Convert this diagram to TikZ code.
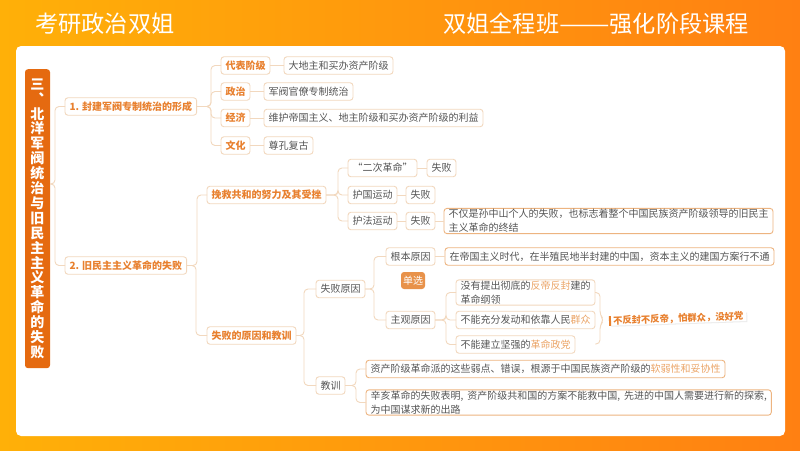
\documentclass[tikz,border=0pt]{standalone}
\usepackage{fontspec}
\setmainfont{Noto Sans CJK SC}
\usetikzlibrary{positioning,shadows}
\definecolor{barorange}{HTML}{E56A10}
\definecolor{headorange}{HTML}{E8802E}
\definecolor{softorange}{HTML}{EBA466}
\definecolor{tagorange}{HTML}{E8924A}
\definecolor{linetan}{HTML}{F2D8BE}
\definecolor{bodygray}{HTML}{555555}
\definecolor{bgleft}{HTML}{FFB008}
\definecolor{bgright}{HTML}{FF8012}
\tikzset{
    %Define style for boxes
    leaf/.style={
           rectangle,
           rounded corners=3pt,
           draw=linetan,
           line width=0.9pt,
           fill=white,
           text=bodygray,
           font=\fontsize{10}{14}\selectfont,
           align=left,
           inner xsep=4.5pt,
           inner ysep=1pt,
           outer sep=0pt,
           minimum height=17.5pt},
    head/.style={
           leaf,
           text=headorange,
           font=\fontsize{10}{14}\selectfont\bfseries},
    % Define connector styles
    link/.style={
           draw=linetan,
           line width=0.9pt,
           rounded corners=4pt},
    elbow/.style={
           to path={(\tikztostart) -- ([xshift=-#1pt]\tikztotarget |- \tikztostart) |- (\tikztotarget)}},
    elbow/.default=10
}
\newcommand{\hl}[1]{\textcolor{softorange}{#1}}

\begin{document}
\begin{tikzpicture}[x=1pt,y=-1pt,node distance=14pt]
  \useasboundingbox (0,0) rectangle (800,450);
  \shade[left color=bgleft,right color=bgright] (0,0) rectangle (800,450);
  \fill[white,rounded corners=5pt] (16,46) rectangle (785,436);

  % titles
  \node[anchor=west,inner sep=0pt,text=white,font=\fontsize{23.2}{23.2}\selectfont] (title) at (35,24) {考研政治双姐};
  \node[anchor=west,inner sep=0pt,text=white,font=\fontsize{23.2}{23.2}\selectfont] (course) at (443,24) {双姐全程班\scalebox{1.3}[1]{——}强化阶段课程};

  % left bar
  \node[fill=barorange,rounded corners=3pt,text=white,inner sep=0pt,minimum width=25pt,minimum height=299pt,
        align=center,font=\fontsize{14}{14.9}\selectfont\bfseries,anchor=north] (side) at (37.5,69)
    {三\\{\addfontfeature{RawFeature=+vert}、}\\北\\洋\\军\\阀\\统\\治\\与\\旧\\民\\主\\主\\义\\革\\命\\的\\失\\败};
  \coordinate (sidestem) at (50,184);

  % first branch
  \node[head,anchor=west] (form) at (65,106.5) {1. 封建军阀专制统治的形成};
  \node[head,anchor=west] (class) at (221,65.5) {代表阶级};
  \node[leaf,right=of class] (landlord) {大地主和买办资产阶级};
  \node[head,anchor=west] (politics) at (221,91.5) {政治};
  \node[leaf,right=of politics] (warlord) {军阀官僚专制统治};
  \node[head,anchor=west] (economy) at (221,118) {经济};
  \node[leaf,right=of economy] (defend) {维护帝国主义、地主阶级和买办资产阶级的利益};
  \node[head,anchor=west] (culture) at (221,145.5) {文化};
  \node[leaf,right=of culture] (confucius) {尊孔复古};

  % second branch
  \node[head,anchor=west] (fail) at (65,265.5) {2. 旧民主主义革命的失败};
  \node[head,anchor=west] (save) at (207,195) {挽救共和的努力及其受挫};
  \node[head,anchor=west] (lesson) at (207,335.5) {失败的原因和教训};

  \node[leaf,anchor=west] (second) at (348,168) {“二次革命”};
  \node[leaf,right=10pt of second] (failA) {失败};
  \node[leaf,anchor=west] (guard) at (348,195) {护国运动};
  \node[leaf,right=9pt of guard] (failB) {失败};
  \node[leaf,anchor=west] (law) at (348,221) {护法运动};
  \node[leaf,right=9pt of law] (failC) {失败};
  \node[leaf,right=9pt of failC,draw=softorange!70!linetan] (end) {不仅是孙中山个人的失败，也标志着整个中国民族资产阶级领导的旧民主\\主义革命的终结};

  \node[leaf,anchor=west] (reason) at (316,289) {失败原因};
  \node[leaf,anchor=west] (root) at (386,256.5) {根本原因};
  \node[leaf,right=10pt of root,draw=softorange!70!linetan] (era) {在帝国主义时代，在半殖民地半封建的中国，资本主义的建国方案行不通};
  \node[fill=tagorange,rounded corners=3pt,text=white,inner sep=0pt,minimum width=24pt,minimum height=17pt,
        font=\fontsize{10}{10}\selectfont] (single) at (413,280.5) {单选};
  \node[leaf,anchor=west] (subject) at (386,320) {主观原因};
  \node[leaf,anchor=west] (program) at (456,292.5) {没有提出彻底的\hl{反帝反封}建的\\革命纲领};
  \node[leaf,anchor=west] (masses) at (456,320) {不能充分发动和依靠人民\hl{群众}};
  \node[leaf,anchor=west] (party) at (456,344.5) {不能建立坚强的\hl{革命政党}};

  \node[leaf,anchor=west] (teach) at (316,385.5) {教训};
  \node[leaf,anchor=west,draw=softorange!70!linetan] (weak) at (366,369) {资产阶级革命派的这些弱点、错误，根源于中国民族资产阶级的\hl{软弱性和妥协性}};
  \node[leaf,anchor=west,draw=softorange!70!linetan] (xinhai) at (366,402.5) {辛亥革命的失败表明,\hspace{4pt}资产阶级共和国的方案不能救中国,\hspace{4pt}先进的中国人需要进行新的探索,\hspace{2pt}\\为中国谋求新的出路};

  % handwritten note
  \node[rotate=2,fill=white,drop shadow={shadow xshift=1pt,shadow yshift=-1pt,opacity=0.15},inner xsep=3pt,inner ysep=0pt,text=headorange,
        font=\fontsize{9.3}{12}\selectfont\bfseries,anchor=west] (note) at (610,321) {不反封不反帝，怕群众，没好党};
  \draw[headorange,line width=2pt] (note.north west) -- (note.south west);

  % connectors
  \foreach \src/\dst in {sidestem/form.west,sidestem/fail.west,
      form.east/class.west,form.east/politics.west,form.east/economy.west,form.east/culture.west,
      fail.east/save.west,
      save.east/second.west,save.east/guard.west,save.east/law.west,
      subject.east/program.west,subject.east/masses.west,subject.east/party.west,
      teach.east/weak.west,teach.east/xinhai.west}
    \draw[link] (\src) to[elbow] (\dst);
  \draw[link] (fail.east) to[elbow=11] (lesson.west);
  \foreach \src/\dst in {lesson.east/reason.west,lesson.east/teach.west,
      reason.east/root.west,reason.east/subject.west}
    \draw[link] (\src) to[elbow=12] (\dst);
  \foreach \src/\dst in {class/landlord,politics/warlord,economy/defend,culture/confucius,
      second/failA,guard/failB,law/failC,failC/end,root/era}
    \draw[link] (\src) -- (\dst);

  % brace beside the three causes
  \coordinate (bracetop) at (program.east);
  \coordinate (bracetip) at (604,320);
  \coordinate (bracebot) at (595,344);
  \draw[link] (bracetop) -- ++(5,0) -- (600,315) -- (bracetip) -- (600,325) -- (600,344) -- (bracebot);
\end{tikzpicture}
\end{document}
